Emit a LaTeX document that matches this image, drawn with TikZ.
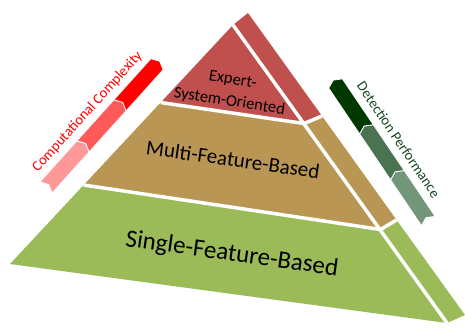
\documentclass[tikz,border=0pt]{standalone}
\usepackage{fontspec}
\setmainfont{Carlito}
\usepackage{tikz}
\usetikzlibrary{calc,shapes.symbols,positioning}
\definecolor{layerred}{RGB}{192,80,77}
\definecolor{layertan}{RGB}{186,150,84}
\definecolor{layergreen}{RGB}{155,187,89}
\definecolor{cplxlow}{RGB}{255,153,153}
\definecolor{cplxmid}{RGB}{255,90,90}
\definecolor{cplxhigh}{RGB}{255,0,0}
\definecolor{perflow}{RGB}{115,150,120}
\definecolor{perfmid}{RGB}{74,115,80}
\definecolor{perfhigh}{RGB}{0,56,0}
\definecolor{perftext}{RGB}{20,70,30}
\tikzset{gap/.style={draw=white, line width=3.5pt},
  seg/.style={shape=signal, signal to=east, signal from=west, signal pointer angle=128, minimum width=59.3pt, minimum height=16.5pt, inner sep=0pt, draw=white, line width=0.8pt, transform shape},
  layertext/.style={text=black, inner sep=0pt},
  sidetext/.style={inner sep=0pt, anchor=base, transform shape, font=\fontsize{14.5}{17}\selectfont}}

\begin{document}
\begin{tikzpicture}[x=1pt, y=1pt]
    \useasboundingbox (0,0) rectangle (465,327);
    % corners of the pyramid
    \coordinate (apex) at (233,302);
    \coordinate (BL) at (10,63);
    \coordinate (BR) at (447,4);
    \coordinate (P1) at (160.7,224.5);
    \coordinate (Q1) at (304,203.5);
    \coordinate (P2) at (83.7,142);
    \coordinate (Q2) at (380.5,97.5);
    \coordinate (S0) at (248,314);
    \coordinate (S1) at (322,211);
    \coordinate (S2) at (396.6,107);
    \coordinate (S3) at (465,12);
    % faces
    \fill[layerred] (apex) -- (P1) -- (Q1) -- cycle;
    \fill[layerred] (apex) -- (S0) -- (S1) -- (Q1) -- cycle;
    \fill[layertan] (P1) -- (P2) -- (Q2) -- (Q1) -- cycle;
    \fill[layertan] (Q1) -- (S1) -- (S2) -- (Q2) -- cycle;
    \fill[layergreen] (P2) -- (BL) -- (BR) -- (Q2) -- cycle;
    \fill[layergreen] (Q2) -- (S2) -- (S3) -- (BR) -- cycle;
    \draw[gap] (P1) -- (Q1) -- (S1);
    \draw[gap] (P2) -- (Q2) -- (S2);
    \draw[gap] (apex) -- (BR);
    % layer names
    \node[layertext, rotate=-9, align=center, font=\fontsize{16.5}{22}\selectfont] (expert) at (231,236) {Expert-\\System-Oriented};
    \node[layertext, rotate=-8, anchor=base, font=\fontsize{21}{25}\selectfont] (multi) at (232,160.5) {Multi-Feature-Based};
    \node[layertext, rotate=-8, anchor=base, font=\fontsize{25}{30}\selectfont] (single) at (231,66) {Single-Feature-Based};
    % computational complexity
    \begin{scope}[shift={(46,139.5)}, rotate=48]
        \node[seg, fill=cplxlow] (C1) at (29.65,0) {};
        \node[seg, fill=cplxmid] (C2) at (84.95,0) {};
        \node[seg, fill=cplxhigh] (C3) at (140.25,0) {};
        \node[sidetext, text=cplxhigh] (cplx) at (84,16) {Computational Complexity};
    \end{scope}
    % detection performance
    \begin{scope}[shift={(428.3,106)}, rotate=124]
        \node[seg, fill=perflow] (D1) at (29.65,0) {};
        \node[seg, fill=perfmid] (D2) at (84.95,0) {};
        \node[seg, fill=perfhigh] (D3) at (140.25,0) {};
        \node[sidetext, rotate=180, text=perftext] (perf) at (84,-16) {Detection Performance};
    \end{scope}
\end{tikzpicture}
\end{document}
